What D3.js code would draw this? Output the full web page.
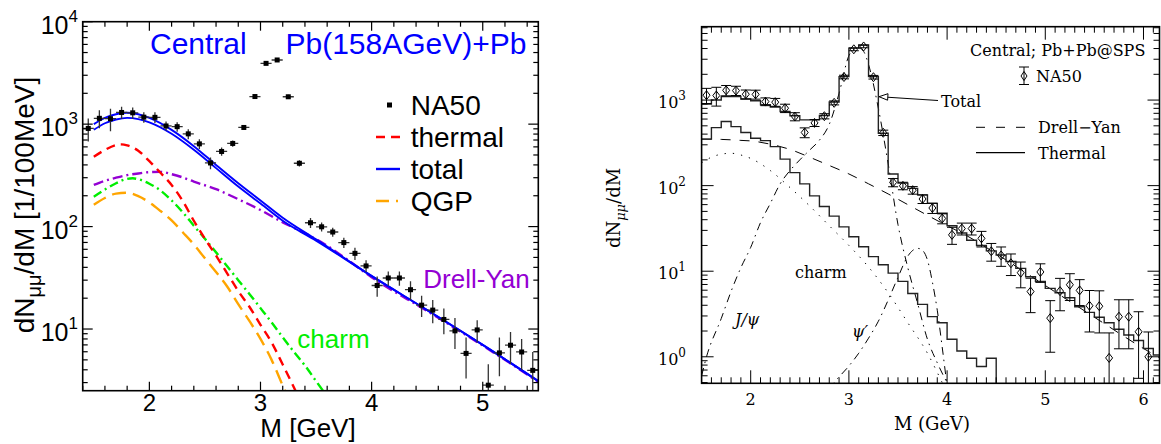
<!DOCTYPE html>
<html lang="en">
<head>
<meta charset="UTF-8">
<title>Dimuon mass spectra, central Pb+Pb at SPS</title>
<script src="https://d3js.org/d3.v7.min.js"></script>
<style>
  html, body { margin: 0; padding: 0; background: #fff; overflow: hidden; }
  svg { display: block; }
  .sans { font-family: "Liberation Sans", Arial, sans-serif; }
  .serif { font-family: "DejaVu Serif", serif; }
</style>
</head>
<body>
<svg id="chart" width="1161" height="444"></svg>
<script>
// ---- NA50 data (bin centres in GeV, yield, symmetric error) ----
const na50Mass = [1.45, 1.55, 1.65, 1.75, 1.85, 1.95, 2.05, 2.15, 2.25, 2.35, 2.45, 2.55, 2.65, 2.75, 2.85, 2.95,
  3.05, 3.15, 3.25, 3.35, 3.45, 3.55, 3.65, 3.75, 3.85, 3.95, 4.05, 4.15, 4.25, 4.35, 4.45, 4.55, 4.65, 4.75,
  4.85, 4.95, 5.05, 5.15, 5.25, 5.35, 5.45, 5.55, 5.65, 5.75, 5.85, 5.95, 6.05];
const na50Yield = [908, 1140, 1130, 1300, 1290, 1170, 1165, 960, 945, 804, 642, 418, 541, 648, 928, 1860,
  3920, 4230, 1850, 415, 109, 99.5, 88.5, 69.8, 54.8, 41.3, 26.6, 31.5, 31.5, 24.2, 17.1, 15.3, 12.4, 9.6,
  5.78, 9.8, 2.83, 5.85, 6.95, 5.97, 3.95, 3.9, 0.97, 2.94, 2.94, 1.96, 1.0];
const na50Err = [230, 230, 280, 180, 160, 140, 140, 100, 100, 90, 70, 55, 50, 45, 50, 90,
  150, 150, 90, 30, 12, 10, 9, 8, 7.5, 5.5, 6, 5, 5, 5, 4, 3.9, 3.5, 3.2,
  2.5, 2.4, 1.7, 2.4, 2.4, 2, 2, 2, 0.93, 1.7, 1.7, 1.4, 0.95];

// ---- left panel: model curves [M, dN/dM] ----
const totalUpper = [[1.5,1000],[1.6,1150],[1.7,1250],[1.8,1290],[1.9,1250],[2.0,1150],[2.2,880],[2.4,610],
  [2.6,400],[2.8,265],[3.0,180],[3.2,122],[3.5,75],[4.0,33],[4.5,15.3],[5.0,7.0],[5.5,3.1]];
const totalLower = [[1.5,880],[1.6,1020],[1.7,1110],[1.8,1150],[1.9,1120],[2.0,1040],[2.2,805],[2.4,562],
  [2.6,372],[2.8,246],[3.0,168],[3.2,114],[3.5,73],[4.0,32.8],[4.5,15.3],[5.0,7.0],[5.5,3.1]];
const thermalLeft = [[1.5,480],[1.6,560],[1.7,625],[1.75,634],[1.8,620],[1.9,550],[2.0,435],[2.1,335],[2.2,255],
  [2.3,178],[2.4,114],[2.5,76],[2.6,52],[2.7,35],[2.8,23.5],[2.9,16.5],[3.0,11],[3.1,7.4],[3.2,4.5],[3.3,2.7],[3.4,1.6]];
const charmLeft = [[1.5,196],[1.6,230],[1.7,265],[1.8,292],[1.85,296],[1.9,290],[2.0,262],[2.1,225],[2.2,180],
  [2.3,138],[2.4,102],[2.5,76],[2.6,56],[2.7,41],[2.8,30],[2.9,22],[3.0,16],[3.1,11.6],[3.2,8.3],[3.3,6.0],
  [3.4,4.4],[3.5,3.1],[3.6,2.2]];
const qgpLeft = [[1.5,163],[1.6,190],[1.7,210],[1.8,214],[1.9,198],[2.0,172],[2.1,142],[2.2,115],[2.3,88],
  [2.4,67],[2.5,49],[2.6,36],[2.7,26],[2.8,17.5],[2.9,12],[3.0,8],[3.1,5.0],[3.2,2.8],[3.3,1.6]];
const drellYanLeft = [[1.5,255],[1.6,280],[1.7,300],[1.8,318],[1.9,330],[2.0,340],[2.1,342],[2.2,325],[2.3,302],
  [2.4,275],[2.6,232],[2.8,185],[3.0,145],[3.2,110],[3.4,86],[3.6,65],[3.8,46],[4.0,32],[4.5,15],[5.0,6.9],[5.5,3.05]];

// ---- right panel: histograms (lower bin edges, width 0.1 GeV) ----
const histBins = [1.5, 1.6, 1.7, 1.8, 1.9, 2.0, 2.1, 2.2, 2.3, 2.4, 2.5, 2.6, 2.7, 2.8, 2.9, 3.0, 3.1, 3.2, 3.3, 3.4,
  3.5, 3.6, 3.7, 3.8, 3.9, 4.0, 4.1, 4.2, 4.3, 4.4, 4.5, 4.6, 4.7, 4.8, 4.9, 5.0, 5.1, 5.2, 5.3, 5.4, 5.5, 5.6,
  5.7, 5.8, 5.9, 6.0, 6.1];
const totalHist = [900, 1000, 1100, 1100, 1030, 980, 880, 830, 735, 655, 587, 587, 660, 950, 1880, 4050, 4420, 1880,
  410, 137, 107, 93, 78, 62, 47.5, 34, 28, 23, 20, 17.3, 15.5, 13, 10.8, 8.6, 7.6, 6.3, 5.6, 4.9, 3.85, 3.3, 2.9,
  2.5, 2.1, 1.8, 1.55, 1.25, 1.05];
const thermalHist = [350, 477, 561, 490, 417, 358, 336, 286, 204, 142, 105, 76, 57, 44, 33, 25.3, 19.3, 14.8, 11.9,
  9.5, 7.6, 5.5, 4.1, 2.95, 2.5, 1.6, 1.17, 0.96, 0.77, 0.96];

// ---- right panel: smooth components [M, dN/dM] ----
const drellYanRight = [[1.5,350],[1.7,347],[1.9,338],[2.0,333],[2.2,305],[2.4,265],[2.6,215],[2.8,172],[3.0,137],
  [3.2,105],[3.4,80],[3.6,60],[3.8,45],[4.0,34],[4.2,26],[4.5,16],[5.0,6.8],[5.5,2.9],[6.0,1.25],[6.2,0.92]];
const charmRight = [[1.5,185],[1.6,215],[1.7,233],[1.8,239],[1.9,228],[2.0,208],[2.2,150],[2.4,95],[2.6,58],
  [2.8,34],[3.0,20],[3.2,11.2],[3.4,5.6],[3.6,2.5],[3.8,1.1],[3.95,0.5],[4.0,0.38]];
const jpsiRight = [[1.5,0.6],[1.55,1.0],[1.7,2.8],[1.8,5.8],[1.9,11],[2.0,19],[2.1,37],[2.2,62],[2.3,105],[2.4,150],
  [2.5,200],[2.6,260],[2.7,340],[2.8,520],[2.9,1200],[3.0,3300],[3.05,3900],[3.1,4050],[3.15,3700],[3.2,2600],
  [3.3,800],[3.4,180],[3.5,35],[3.6,11],[3.7,4.2],[3.8,1.6],[3.9,0.85],[4.0,0.5],[4.05,0.4]];
const psiPrimeRight = [[2.8,0.42],[2.85,0.5],[3.0,0.78],[3.1,1.1],[3.2,1.65],[3.3,2.6],[3.4,4.6],[3.5,8.5],[3.6,15],
  [3.65,17.5],[3.7,18.5],[3.75,17.5],[3.8,13.5],[3.85,7.5],[3.9,3.5],[3.95,1.3],[4.0,0.45]];

// ---- tick values ----
const leftMajorX = [2, 3, 4, 5];
const leftMinorX = [1.4, 1.6, 1.8, 2.2, 2.4, 2.6, 2.8, 3.2, 3.4, 3.6, 3.8, 4.2, 4.4, 4.6, 4.8, 5.2, 5.4];
const rightMajorX = [2, 3, 4, 5, 6];
const decadeMantissas = [2, 3, 4, 5, 6, 7, 8, 9];

const svg = d3.select("#chart");

// scales
const xL = d3.scaleLinear().domain([1.4, 5.5]).range([82.7, 538.3]);
const yL = d3.scaleLog().domain([2.5, 1e4]).range([390.7, 21.7]);
const xR = d3.scaleLinear().domain([1.5, 6.163]).range([701.6, 1159.5]);
const yR = d3.scaleLog().domain([0.49, 7200]).range([383.3, 26.7]);

function logTicks(y) {
  const [lo, hi] = y.domain();
  const major = [], minor = [];
  for (let k = Math.floor(Math.log10(lo)); k <= Math.ceil(Math.log10(hi)); k++) {
    const p = Math.pow(10, k);
    if (p >= lo && p <= hi) major.push(p);
    decadeMantissas.forEach(m => { if (m * p >= lo && m * p <= hi) minor.push(m * p); });
  }
  return { major, minor };
}

// frame + inward ticks on all four sides
function drawFrame(g, x, y, o) {
  const [x0, x1] = x.range(), [yb, yt] = y.range();
  const line = (a, b, c, d) => g.append("line").attr("x1", a).attr("y1", b).attr("x2", c).attr("y2", d)
    .attr("stroke", "#000").attr("stroke-width", o.tickW);
  o.xMinor.forEach(v => { line(x(v), yb, x(v), yb - o.xMinorLen); line(x(v), yt, x(v), yt + o.xMinorLen); });
  o.xMajor.forEach(v => { line(x(v), yb, x(v), yb - o.xMajorLen); line(x(v), yt, x(v), yt + o.xMajorLen); });
  const lt = logTicks(y);
  lt.minor.forEach(v => { line(x0, y(v), x0 + o.yMinorLen, y(v)); line(x1, y(v), x1 - o.yMinorLen, y(v)); });
  lt.major.forEach(v => { line(x0, y(v), x0 + o.yMajorLen, y(v)); line(x1, y(v), x1 - o.yMajorLen, y(v)); });
  g.append("rect").attr("x", x0).attr("y", yt).attr("width", x1 - x0).attr("height", yb - yt)
    .attr("fill", "none").attr("stroke", "#000").attr("stroke-width", o.frameW);
  return lt.major;
}

function clip(id, x, y) {
  svg.append("clipPath").attr("id", id).append("rect")
    .attr("x", x.range()[0]).attr("y", y.range()[1])
    .attr("width", x.range()[1] - x.range()[0]).attr("height", y.range()[0] - y.range()[1]);
}

// ================= LEFT PANEL =================
clip("clipL", xL, yL);
const gL = svg.append("g").attr("class", "sans");
const plotL = gL.append("g").attr("clip-path", "url(#clipL)");

const lineL = d3.line().x(d => xL(d[0])).y(d => yL(d[1])).curve(d3.curveMonotoneX);
const leftCurves = [
  { data: drellYanLeft, color: "#9400d3", dash: "10,4,2,4", w: 2.4 },
  { data: qgpLeft, color: "#ffa500", dash: "14,7", w: 2.4 },
  { data: charmLeft, color: "#00ee00", dash: "9,4,2,4", w: 2.4 },
  { data: thermalLeft, color: "#ff0000", dash: "9,6", w: 2.4 },
  { data: totalUpper, color: "#0000ff", dash: null, w: 1.9 },
  { data: totalLower, color: "#0000ff", dash: null, w: 1.9 }
];
leftCurves.forEach(c => {
  plotL.append("path").datum(c.data).attr("d", lineL).attr("fill", "none")
    .attr("stroke", c.color).attr("stroke-width", c.w).attr("stroke-dasharray", c.dash);
});

// NA50 points
na50Mass.forEach((m, i) => {
  const v = na50Yield[i], e = na50Err[i];
  const lo = Math.max(v - e, yL.domain()[0] * 0.5);
  plotL.append("line").attr("x1", xL(m)).attr("x2", xL(m)).attr("y1", yL(lo)).attr("y2", yL(v + e))
    .attr("stroke", "#333").attr("stroke-width", 1.3);
  plotL.append("line").attr("x1", xL(m - 0.05)).attr("x2", xL(m + 0.05)).attr("y1", yL(v)).attr("y2", yL(v))
    .attr("stroke", "#333").attr("stroke-width", 1.3);
  plotL.append("rect").attr("x", xL(m) - 2.5).attr("y", yL(v) - 2.5).attr("width", 5).attr("height", 5)
    .attr("fill", "#000");
});

const majL = drawFrame(gL, xL, yL, { tickW: 1.2, frameW: 1.6, xMajor: leftMajorX, xMinor: leftMinorX,
  xMajorLen: 9, xMinorLen: 5, yMajorLen: 10, yMinorLen: 5 });

// tick labels
leftMajorX.forEach(v => gL.append("text").attr("x", xL(v)).attr("y", 411).attr("text-anchor", "middle")
  .attr("font-size", 24).text(v));
majL.forEach(v => {
  const t = gL.append("text").attr("x", 78).attr("y", yL(v) + 12).attr("text-anchor", "end").attr("font-size", 25);
  t.append("tspan").text("10");
  t.append("tspan").attr("dy", -12).attr("font-size", 17).text(Math.round(Math.log10(v)));
});

gL.append("text").attr("x", 308).attr("y", 437).attr("text-anchor", "middle").attr("font-size", 26).text("M [GeV]");
const ylabL = gL.append("text").attr("transform", "translate(34,205) rotate(-90)")
  .attr("text-anchor", "middle").attr("font-size", 28);
ylabL.append("tspan").text("dN");
ylabL.append("tspan").attr("dy", 7).attr("font-size", 20).text("μμ");
ylabL.append("tspan").attr("dy", -7).text("/dM [1/100MeV]");

// title + legend
gL.append("text").attr("x", 150).attr("y", 54).attr("font-size", 30).attr("fill", "#0000ff").text("Central");
gL.append("text").attr("x", 285.5).attr("y", 54).attr("font-size", 30).attr("fill", "#0000ff").text("Pb(158AGeV)+Pb");

const legL = [
  { label: "NA50", kind: "point" },
  { label: "thermal", color: "#ff0000", dash: "9,6" },
  { label: "total", color: "#0000ff", dash: null },
  { label: "QGP", color: "#ffa500", dash: "13,7,2,7" }
];
legL.forEach((d, i) => {
  const cy = 105 + i * 32;
  if (d.kind === "point") {
    gL.append("rect").attr("x", 387).attr("y", cy - 2.5).attr("width", 5).attr("height", 5).attr("fill", "#000");
  } else {
    gL.append("line").attr("x1", 376).attr("x2", 400).attr("y1", cy).attr("y2", cy)
      .attr("stroke", d.color).attr("stroke-width", 2.4).attr("stroke-dasharray", d.dash);
  }
  gL.append("text").attr("x", 410.7).attr("y", cy + 10).attr("font-size", 28).text(d.label);
});
gL.append("text").attr("x", 423.3).attr("y", 288.3).attr("font-size", 26).attr("fill", "#9400d3").text("Drell-Yan");
gL.append("text").attr("x", 297.3).attr("y", 348.3).attr("font-size", 26).attr("fill", "#00ee00").text("charm");

// ================= RIGHT PANEL =================
clip("clipR", xR, yR);
const gR = svg.append("g").attr("class", "serif");
const plotR = gR.append("g").attr("clip-path", "url(#clipR)");

const lineR = d3.line().x(d => xR(d[0])).y(d => yR(d[1])).curve(d3.curveMonotoneX);
[
  { data: drellYanRight, dash: "10,9" },
  { data: charmRight, dash: "1.3,7" },
  { data: jpsiRight, dash: "8,5,1.5,5" },
  { data: psiPrimeRight, dash: "8,5,1.5,5" }
].forEach(c => {
  plotR.append("path").datum(c.data).attr("d", lineR).attr("fill", "none")
    .attr("stroke", "#000").attr("stroke-width", 1).attr("stroke-dasharray", c.dash);
});

const stepR = d3.line().x(d => xR(d[0])).y(d => yR(d[1])).curve(d3.curveStepAfter);
function histPoints(values, dropToFloor) {
  const pts = values.map((v, i) => [histBins[i], v]);
  const end = histBins[values.length - 1] + 0.1;
  pts.push([end, values[values.length - 1]]);
  if (dropToFloor) pts.push([end, yR.domain()[0] * 0.5]);
  return pts;
}
plotR.append("path").datum(histPoints(thermalHist, true)).attr("d", stepR).attr("fill", "none")
  .attr("stroke", "#222").attr("stroke-width", 1.4);
plotR.append("path").datum(histPoints(totalHist, false)).attr("d", stepR).attr("fill", "none")
  .attr("stroke", "#222").attr("stroke-width", 1.4);

// NA50 diamonds
na50Mass.forEach((m, i) => {
  if (m < xR.domain()[0]) return;
  const v = na50Yield[i], e = na50Err[i];
  const cx = xR(m), cy = yR(v);
  const yTop = yR(v + e), yBot = yR(Math.max(v - e, yR.domain()[0] * 0.5));
  plotR.append("line").attr("x1", cx).attr("x2", cx).attr("y1", yTop).attr("y2", yBot).attr("stroke", "#000").attr("stroke-width", 1);
  [yTop, yBot].forEach(yy => plotR.append("line").attr("x1", cx - 5).attr("x2", cx + 5).attr("y1", yy).attr("y2", yy)
    .attr("stroke", "#000").attr("stroke-width", 1));
  plotR.append("path").attr("d", `M${cx},${cy - 4.5}L${cx + 3.5},${cy}L${cx},${cy + 4.5}L${cx - 3.5},${cy}Z`)
    .attr("fill", "none").attr("stroke", "#000").attr("stroke-width", 1);
});

const majR = drawFrame(gR, xR, yR, { tickW: 1, frameW: 1.6, xMajor: rightMajorX,
  xMinor: d3.range(16, 62).map(d => d / 10).filter(v => !rightMajorX.includes(v)),
  xMajorLen: 13, xMinorLen: 6, yMajorLen: 12, yMinorLen: 6 });

rightMajorX.forEach(v => gR.append("text").attr("x", xR(v)).attr("y", 405).attr("text-anchor", "middle")
  .attr("font-size", 16).text(v));
majR.forEach(v => {
  const t = gR.append("text").attr("x", 686).attr("y", yR(v) + 8).attr("text-anchor", "end").attr("font-size", 16);
  t.append("tspan").text("10");
  t.append("tspan").attr("dy", -8).attr("font-size", 12).text(Math.round(Math.log10(v)));
});
gR.append("text").attr("x", 932).attr("y", 430).attr("text-anchor", "middle").attr("font-size", 18).text("M (GeV)");
const ylabR = gR.append("text").attr("transform", "translate(620,208) rotate(-90)")
  .attr("text-anchor", "middle").attr("font-size", 18);
ylabR.append("tspan").text("dN");
ylabR.append("tspan").attr("dy", 5).attr("font-size", 13).attr("font-style", "italic").text("μμ");
ylabR.append("tspan").attr("dy", -5).text("/dM");

// annotations
gR.append("text").attr("x", 970).attr("y", 56).attr("font-size", 16).text("Central; Pb+Pb@SPS");
gR.append("line").attr("x1", 1024).attr("x2", 1024).attr("y1", 67).attr("y2", 84.5).attr("stroke", "#000");
[67, 84.5].forEach(yy => gR.append("line").attr("x1", 1019).attr("x2", 1029).attr("y1", yy).attr("y2", yy).attr("stroke", "#000"));
gR.append("path").attr("d", "M1024,71.5L1027,76L1024,80.5L1021,76Z").attr("fill", "none").attr("stroke", "#000");
gR.append("text").attr("x", 1036).attr("y", 81.5).attr("font-size", 16).text("NA50");

// arrow to total
gR.append("line").attr("x1", 887).attr("y1", 97.2).attr("x2", 938).attr("y2", 100.5).attr("stroke", "#000");
gR.append("path").attr("d", "M879,96.7L888,93.7L887.6,100.2Z").attr("fill", "#fff").attr("stroke", "#000");
gR.append("text").attr("x", 941).attr("y", 106.5).attr("font-size", 16).text("Total");

gR.append("line").attr("x1", 976).attr("x2", 1025).attr("y1", 127.3).attr("y2", 127.3)
  .attr("stroke", "#000").attr("stroke-dasharray", "9,11");
gR.append("text").attr("x", 1038).attr("y", 133).attr("font-size", 16).text("Drell\u2212Yan");
gR.append("line").attr("x1", 976).attr("x2", 1025).attr("y1", 152.7).attr("y2", 152.7).attr("stroke", "#000").attr("stroke-width", 1.2);
gR.append("text").attr("x", 1038).attr("y", 158.5).attr("font-size", 16).text("Thermal");

gR.append("text").attr("x", 795).attr("y", 278).attr("font-size", 16).text("charm");
gR.append("text").attr("x", 735).attr("y", 325).attr("font-size", 16).attr("font-style", "italic").text("J/ψ");
gR.append("text").attr("x", 852).attr("y", 337).attr("font-size", 16).attr("font-style", "italic").text("ψ′");
</script>
</body>
</html>
